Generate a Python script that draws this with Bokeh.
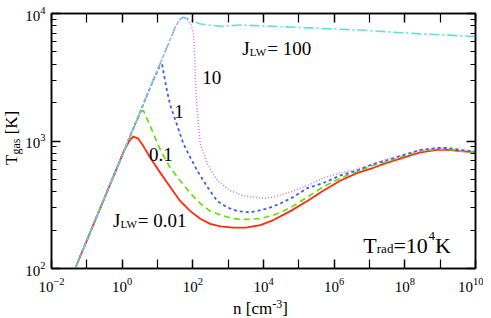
from bokeh.plotting import figure
from bokeh.models import LogAxis, FixedTicker, Label, Range1d, CustomJSTickFormatter, Div
from bokeh.layouts import row, column
from bokeh.embed import file_html
from bokeh.resources import INLINE

# ---- data (log10 n [cm^-3], log10 T_gas [K]) ----
logn_j001 = [-1.33, 0.05, 0.2, 0.31, 0.45, 0.6, 0.79, 1.08, 1.36, 1.64, 1.93, 2.21, 2.49, 2.78, 3.14,
             3.5, 3.91, 4.28, 4.76, 5.24, 5.69, 6.18, 6.66, 7.11, 7.51, 7.96, 8.44, 8.92, 9.21, 9.58, 10.0]
logT_j001 = [2.0, 2.92, 3.0, 3.035, 3.02, 2.96, 2.87, 2.75, 2.64, 2.53, 2.45, 2.39, 2.35, 2.33, 2.32,
             2.32, 2.34, 2.38, 2.45, 2.53, 2.61, 2.69, 2.75, 2.79, 2.83, 2.87, 2.91, 2.93, 2.93, 2.92, 2.91]

logn_j01 = [-1.33, 0.4, 0.52, 0.6, 0.71, 0.88, 1.08, 1.36, 1.64, 1.93, 2.21, 2.49, 2.78, 3.14, 3.5,
            3.9, 4.3, 4.48, 4.84, 5.24, 5.69, 6.18, 6.66, 7.11, 7.51, 7.96, 8.44, 8.92, 9.21, 9.58, 10.0]
logT_j01 = [2.0, 3.15, 3.22, 3.24, 3.17, 3.06, 2.93, 2.79, 2.69, 2.59, 2.51, 2.45, 2.42, 2.39, 2.385,
            2.39, 2.42, 2.44, 2.49, 2.56, 2.64, 2.71, 2.76, 2.81, 2.84, 2.88, 2.92, 2.935, 2.935, 2.92, 2.91]

logn_j1 = [-1.33, 0.9, 1.05, 1.13, 1.25, 1.36, 1.56, 1.73, 1.93, 2.12, 2.41, 2.69, 2.97, 3.26, 3.63,
           4.11, 4.48, 4.84, 5.24, 5.69, 6.18, 6.66, 7.11, 7.51, 7.96, 8.44, 8.92, 9.21, 9.58, 10.0]
logT_j1 = [2.0, 3.49, 3.58, 3.6, 3.42, 3.28, 3.12, 2.98, 2.87, 2.77, 2.64, 2.53, 2.48, 2.45, 2.44,
           2.47, 2.51, 2.56, 2.63, 2.67, 2.73, 2.77, 2.82, 2.85, 2.89, 2.93, 2.945, 2.945, 2.93, 2.915]

logn_j10 = [-1.33, 1.5, 1.62, 1.72, 1.85, 1.95, 2.01, 2.04, 2.07, 2.12, 2.21, 2.41, 2.69, 3.06, 3.43,
            3.71, 4.0, 4.28, 4.76, 5.24, 5.69, 6.18, 6.66, 7.11, 7.51, 7.96, 8.44, 8.92, 9.21, 9.58, 10.0]
logT_j10 = [2.0, 3.89, 3.95, 3.97, 3.95, 3.91, 3.85, 3.76, 3.5, 3.24, 2.98, 2.82, 2.69, 2.61, 2.57,
            2.56, 2.55, 2.56, 2.60, 2.65, 2.71, 2.75, 2.78, 2.82, 2.86, 2.89, 2.93, 2.945, 2.945, 2.93, 2.92]

logn_j100 = [-1.33, 1.5, 1.62, 1.72, 1.85, 2.01, 2.2, 2.41, 2.83, 3.34, 5.04, 6.74, 8.44, 10.0]
logT_j100 = [2.0, 3.89, 3.95, 3.97, 3.96, 3.94, 3.92, 3.91, 3.90, 3.91, 3.89, 3.87, 3.84, 3.82]

x_major = [-2, 0, 2, 4, 6, 8, 10]
x_minor = [-1, 1, 3, 5, 7, 9]
y_major = [2, 3, 4]
y_minor_mant = [2, 3, 4, 5, 6, 7, 8, 9]

SERIF = "Liberation Serif"
YLAB_W = 22     # width of the y-label column
FIG_H = 296

p = figure(width=461, height=FIG_H, x_axis_type="log", y_axis_type="log",
           x_range=Range1d(1e-2, 1e10), y_range=Range1d(1e2, 1e4),
           output_backend="svg", toolbar_location=None,
           min_border_left=29, min_border_right=8, min_border_top=13, min_border_bottom=28)
p.grid.visible = False
p.outline_line_color = "black"
p.outline_line_width = 1.5
p.background_fill_color = "white"
p.border_fill_color = "white"

xt = FixedTicker(ticks=[10.0 ** e for e in x_major], minor_ticks=[10.0 ** e for e in x_minor])
yt = FixedTicker(ticks=[10.0 ** e for e in y_major],
                 minor_ticks=[m * 10.0 ** e for e in y_major[:-1] for m in y_minor_mant])


def style_axis(ax, ticker, standoff):
    ax.ticker = ticker
    ax.axis_line_color = "black"
    ax.axis_line_width = 1.5
    ax.major_tick_in = 9
    ax.major_tick_out = 0
    ax.major_tick_line_width = 1.5
    ax.minor_tick_line_width = 1.2
    ax.major_label_text_font = SERIF
    ax.major_label_text_font_size = "15px"
    ax.major_label_text_color = "black"
    ax.major_label_standoff = standoff
    ax.axis_label_standoff = 0


for ax in p.xaxis:
    style_axis(ax, xt, 9)
    ax.minor_tick_in = 9
    ax.minor_tick_out = 0
for ax in p.yaxis:
    style_axis(ax, yt, 6)
    ax.minor_tick_in = 5
    ax.minor_tick_out = 0

blank = CustomJSTickFormatter(code="return ''")

top = LogAxis(formatter=blank)
style_axis(top, xt, 0)
top.minor_tick_in = 9
top.minor_tick_out = 0
p.add_layout(top, "above")

right = LogAxis(formatter=blank)
style_axis(right, yt, 0)
right.minor_tick_in = 5
right.minor_tick_out = 0
p.add_layout(right, "right")


def lin(v):
    return [10.0 ** a for a in v]


p.line(lin(logn_j001), lin(logT_j001), line_color="#ff2a10", line_width=1.8)
p.line(lin(logn_j01), lin(logT_j01), line_color="#5fe000", line_width=1.6, line_dash="6 4")
p.line(lin(logn_j1), lin(logT_j1), line_color="#3a5ff0", line_width=1.8, line_dash="3 3")
p.line(lin(logn_j100), lin(logT_j100), line_color="#5fe0d2", line_width=1.6, line_dash="10 3 2 3")
p.line(lin(logn_j10), lin(logT_j10), line_color="#d070f0", line_width=1.5, line_dash="1 2")


# picture pixel -> data helper for placing annotations inside the frame
def px(xp, yp):
    return 10 ** ((xp - 122.1) / 35.29), 10 ** (2 + (268 - yp) / 127.5)


def txt(s, xp, yp, size):
    x, y = px(xp, yp)
    p.add_layout(Label(x=x, y=y, text=s, text_font=SERIF, text_font_size=f"{size}px",
                       text_color="black", text_baseline="alphabetic", text_align="left"))


# J_LW = 100
txt("J", 242, 48, 19)
txt("LW", 249.5, 51, 11)
txt("= 100", 267, 48, 19)
# other J labels
txt("10", 202, 77, 19)
txt("1", 174, 111, 19)
txt("0.1", 149, 154, 19)
txt("J", 113, 220, 19)
txt("LW", 120.5, 223, 11)
txt("= 0.01", 137.6, 220, 19)
# T_rad = 10^4 K
txt("T", 363, 245, 22)
txt("rad", 376.4, 248, 13)
txt("=10", 393, 245, 22)
txt("4", 428, 235, 13)
txt("K", 434.5, 245, 22)

# axis titles as real HTML text (sub/superscripts)
ylab = Div(width=YLAB_W, height=FIG_H, margin=0,
           text=('<div style="position:absolute; left:4px; top:165px; transform:rotate(-90deg); '
                 'transform-origin:left top; white-space:nowrap; font-family:\'Liberation Serif\'; '
                 'font-size:17px; line-height:16px; color:black">'
                 'T<span style="font-size:12px; vertical-align:-3px">gas</span> [K]</div>'))
xlab = Div(width=483, height=22, margin=0,
           text=('<div style="margin-left:233px; margin-top:4px; white-space:nowrap; '
                 'font-family:\'Liberation Serif\'; font-size:17px; line-height:17px; color:black">'
                 'n [cm<span style="font-size:12px; vertical-align:6px; line-height:0">-3</span>]</div>'))

layout = column(row(ylab, p, spacing=0), xlab, spacing=0)

open("out.html", "w").write(file_html(layout, INLINE))
